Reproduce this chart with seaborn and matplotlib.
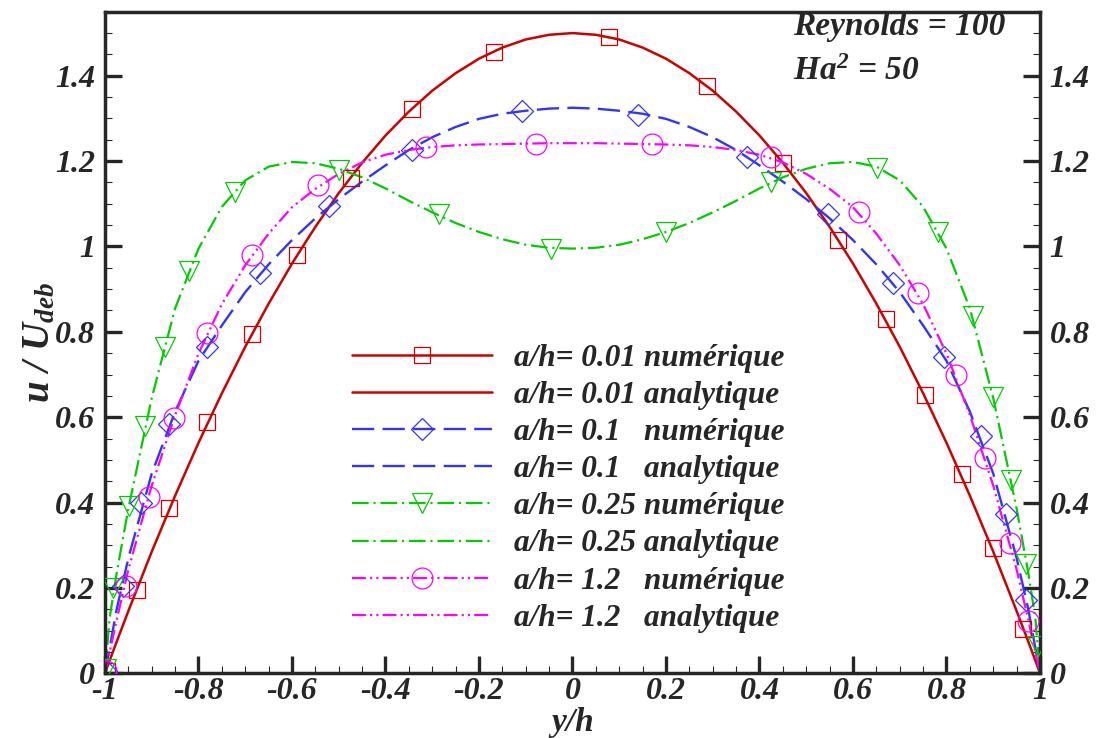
import numpy as np
import pandas as pd
import seaborn as sns
import matplotlib.pyplot as plt
from matplotlib.lines import Line2D
from matplotlib.ticker import MultipleLocator, FuncFormatter

# analytic profiles
x_ana = [-1.0, -0.99, -0.975, -0.95, -0.9, -0.85, -0.8, -0.75, -0.7, -0.65, -0.6, -0.55,
         -0.5, -0.45, -0.4, -0.35, -0.3, -0.25, -0.2, -0.15, -0.1, -0.05, 0.0,
         0.05, 0.1, 0.15, 0.2, 0.25, 0.3, 0.35, 0.4, 0.45, 0.5,
         0.55, 0.6, 0.65, 0.7, 0.75, 0.8, 0.85, 0.9, 0.95, 0.975, 0.99, 1.0]
u_ana_001 = [0.0, 0.03, 0.074, 0.146, 0.285, 0.416, 0.54, 0.656, 0.765, 0.866, 0.96, 1.046,
             1.125, 1.196, 1.26, 1.316, 1.365, 1.406, 1.44, 1.466, 1.485, 1.496, 1.5,
             1.496, 1.485, 1.466, 1.44, 1.406, 1.365, 1.316, 1.26, 1.196, 1.125,
             1.046, 0.96, 0.866, 0.765, 0.656, 0.54, 0.416, 0.285, 0.146, 0.074, 0.03, 0.0]
u_ana_01 = [0.0, 0.06, 0.15, 0.27, 0.468, 0.613, 0.732, 0.815, 0.893, 0.958, 1.015, 1.066,
            1.111, 1.152, 1.19, 1.226, 1.256, 1.28, 1.299, 1.311, 1.318, 1.323, 1.325,
            1.323, 1.318, 1.311, 1.299, 1.28, 1.256, 1.226, 1.19, 1.152, 1.111,
            1.066, 1.015, 0.958, 0.893, 0.815, 0.732, 0.613, 0.468, 0.27, 0.15, 0.06, 0.0]
u_ana_025 = [0.0, 0.13, 0.235, 0.386, 0.645, 0.855, 0.995, 1.093, 1.155, 1.187, 1.198, 1.195,
             1.182, 1.162, 1.136, 1.107, 1.08, 1.055, 1.034, 1.017, 1.004, 0.997, 0.995,
             0.997, 1.004, 1.017, 1.034, 1.055, 1.08, 1.107, 1.136, 1.162, 1.182,
             1.195, 1.198, 1.187, 1.155, 1.093, 0.995, 0.855, 0.645, 0.386, 0.235, 0.13, 0.0]
u_ana_12 = [0.0, 0.05, 0.125, 0.243, 0.44, 0.605, 0.749, 0.865, 0.956, 1.03, 1.092, 1.135,
            1.17, 1.197, 1.215, 1.226, 1.233, 1.237, 1.239, 1.24, 1.241, 1.242, 1.242,
            1.242, 1.241, 1.24, 1.239, 1.237, 1.233, 1.226, 1.215, 1.197, 1.17,
            1.135, 1.092, 1.03, 0.956, 0.865, 0.749, 0.605, 0.44, 0.243, 0.125, 0.05, 0.0]

# numerical results (markers)
x_num_001 = [-0.996, -0.932, -0.863, -0.781, -0.686, -0.589, -0.474, -0.343, -0.167,
             0.079, 0.288, 0.451, 0.568, 0.670, 0.753, 0.833, 0.900, 0.964]
u_num_001 = [0.005, 0.195, 0.387, 0.589, 0.794, 0.980, 1.161, 1.322, 1.456,
             1.490, 1.376, 1.196, 1.015, 0.831, 0.653, 0.468, 0.293, 0.104]
x_num_01 = [-0.997, -0.961, -0.922, -0.863, -0.781, -0.668, -0.521, -0.343, -0.107,
            0.141, 0.373, 0.547, 0.686, 0.795, 0.874, 0.928, 0.971]
u_num_01 = [0.005, 0.205, 0.400, 0.583, 0.765, 0.938, 1.095, 1.227, 1.317,
            1.309, 1.210, 1.075, 0.915, 0.742, 0.557, 0.373, 0.172]
x_num_025 = [-0.998, -0.982, -0.949, -0.915, -0.872, -0.820, -0.721, -0.500, -0.286, -0.045,
             0.201, 0.424, 0.651, 0.781, 0.856, 0.900, 0.937, 0.969, 0.995]
u_num_025 = [0.010, 0.199, 0.391, 0.579, 0.765, 0.942, 1.127, 1.180, 1.076, 0.993,
             1.034, 1.152, 1.184, 1.035, 0.837, 0.648, 0.454, 0.255, 0.063]
x_num_12 = [-0.998, -0.956, -0.906, -0.852, -0.781, -0.686, -0.545, -0.313, -0.077,
            0.171, 0.424, 0.612, 0.738, 0.820, 0.883, 0.936, 0.975]
u_num_12 = [0.005, 0.205, 0.414, 0.599, 0.797, 0.980, 1.144, 1.233, 1.241,
            1.241, 1.210, 1.081, 0.891, 0.698, 0.505, 0.305, 0.123]

labels = ['a/h= 0.01 numérique', 'a/h= 0.01 analytique',
          'a/h= 0.1   numérique', 'a/h= 0.1   analytique',
          'a/h= 0.25 numérique', 'a/h= 0.25 analytique',
          'a/h= 1.2   numérique', 'a/h= 1.2   analytique']

sns.set_style("ticks")
plt.rcParams['font.family'] = ['Liberation Serif']
plt.rcParams['font.style'] = 'italic'
plt.rcParams['font.weight'] = 'bold'
plt.rcParams['axes.labelweight'] = 'bold'
plt.rcParams['mathtext.fontset'] = 'custom'
plt.rcParams['mathtext.it'] = 'Liberation Serif:bold:italic'
plt.rcParams['mathtext.rm'] = 'Liberation Serif:bold:italic'
plt.rcParams['mathtext.bf'] = 'Liberation Serif:bold:italic'
plt.rcParams['axes.unicode_minus'] = False
plt.rcParams['lines.scale_dashes'] = False

styles = [
    dict(color='#d00000', ls='-', lw=1.8, marker='s', ms=11.5),
    dict(color='#3333ff', ls=(0, (16, 6)), lw=1.7, marker='D', ms=11.5),
    dict(color='#00cc00', ls=(0, (12, 3.5, 1.5, 3.5)), lw=1.6, marker='v', ms=14),
    dict(color='#ff00ff', ls=(0, (10, 3, 1.5, 3, 1.5, 3)), lw=1.6, marker='o', ms=15),
]
ana = [u_ana_001, u_ana_01, u_ana_025, u_ana_12]
nums = [(x_num_001, u_num_001), (x_num_01, u_num_01),
        (x_num_025, u_num_025), (x_num_12, u_num_12)]

fig, ax = plt.subplots(figsize=(10.96, 7.38), dpi=100)
fig.subplots_adjust(left=0.0958, right=0.9489, bottom=0.0877, top=0.9841)

handles = []
for st, ua, (xn, un) in zip(styles, ana, nums):
    sns.lineplot(x=x_ana, y=ua, color=st['color'], linestyle=st['ls'], linewidth=st['lw'],
                 estimator=None, sort=False, legend=False, ax=ax, zorder=2)
    sns.lineplot(x=xn, y=un, color=st['color'], linestyle='', marker=st['marker'],
                 markersize=st['ms'], markerfacecolor='none', markeredgecolor=st['color'],
                 markeredgewidth=0.9, estimator=None, sort=False, legend=False, ax=ax, zorder=3)
    handles.append(Line2D([], [], color=st['color'], linestyle=st['ls'], linewidth=st['lw'],
                          marker=st['marker'], markersize=st['ms'], markerfacecolor='none',
                          markeredgecolor=st['color'], markeredgewidth=0.9))
    handles.append(Line2D([], [], color=st['color'], linestyle=st['ls'], linewidth=st['lw']))

ax.set_xlim(-1, 1)
ax.set_ylim(0, 1.55)
ax.xaxis.set_major_locator(MultipleLocator(0.2))
ax.xaxis.set_minor_locator(MultipleLocator(0.05))
ax.yaxis.set_major_locator(MultipleLocator(0.2))
ax.yaxis.set_minor_locator(MultipleLocator(0.05))
fmt = FuncFormatter(lambda v, p: f'{round(v, 2) + 0.0:g}')
ax.xaxis.set_major_formatter(fmt)
ax.yaxis.set_major_formatter(fmt)

ax.tick_params(which='major', direction='in', length=12, width=2.4, labelsize=23,
               top=False, right=True, labelright=True, pad=7)
ax.tick_params(axis='x', which='major', pad=3)
ax.tick_params(which='minor', direction='in', length=5, width=0.8, top=False, right=True)
for s in ax.spines.values():
    s.set_linewidth(2.5)

ax.set_xlabel('y/h', fontsize=24, fontweight='bold', va='baseline')
ax.xaxis.set_label_coords(0.5, -0.087)
ax.set_ylabel(r'$u\ /\ U_{deb}$', fontsize=28)
ax.yaxis.set_label_coords(-0.05, 0.5)

ax.legend(handles, labels, loc='upper left', bbox_to_anchor=(0.264, 0.498),
          frameon=False, fontsize=22.5, handlelength=4.5, handletextpad=0.7,
          labelspacing=0.26, borderpad=0, borderaxespad=0, numpoints=1)

fig.text(793 / 1096, 1 - 27 / 738, 'Reynolds = 100', fontsize=24, va='center', ha='left')
fig.text(793 / 1096, 1 - 72 / 738, 'Ha$^2$ = 50', fontsize=24, va='center', ha='left')

fig.savefig('out.png', dpi=100)
